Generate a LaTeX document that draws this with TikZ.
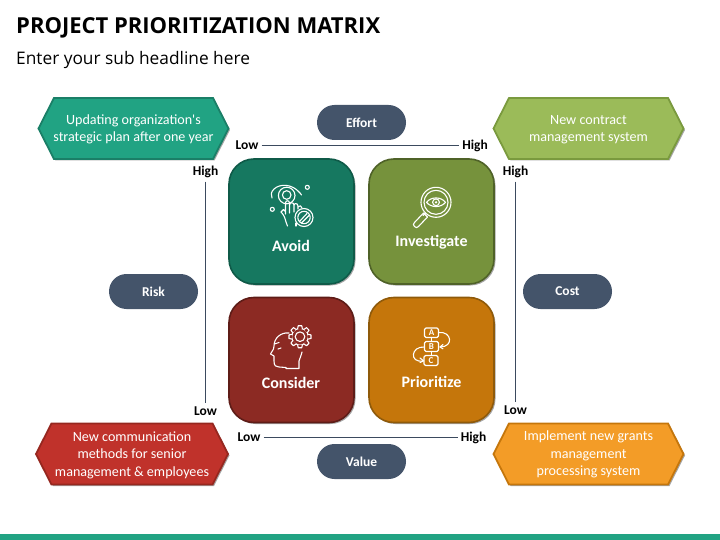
\documentclass[tikz,border=0pt]{standalone}
\usepackage{fontspec}
\setmainfont{Carlito}
\newfontfamily\titlefont{Open Sans}
\newfontfamily\hexfont{Carlito}
\usetikzlibrary{shapes.misc,shadows}
\definecolor{hexteal}{HTML}{21A383}\definecolor{hextealb}{HTML}{1A7F67}
\definecolor{hexgreen}{HTML}{9BBB59}\definecolor{hexgreenb}{HTML}{7A9A3E}
\definecolor{hexred}{HTML}{C0322B}\definecolor{hexredb}{HTML}{96271F}
\definecolor{hexorange}{HTML}{F39C27}\definecolor{hexorangeb}{HTML}{C5760B}
\definecolor{boxteal}{HTML}{167860}\definecolor{boxtealb}{HTML}{0F5A48}
\definecolor{boxgreen}{HTML}{76923C}\definecolor{boxgreenb}{HTML}{4F6228}
\definecolor{boxred}{HTML}{8C2A23}\definecolor{boxredb}{HTML}{5E1C17}
\definecolor{boxorange}{HTML}{C5760B}\definecolor{boxorangeb}{HTML}{8F5A0A}
\definecolor{slatepill}{HTML}{44546A}
\definecolor{axisline}{HTML}{3B4A5E}
\tikzset{
 softshadow/.style={drop shadow={shadow xshift=1.5pt,shadow yshift=-1.5pt,opacity=.35,fill=black}},
 hexpath/.style={line width=1.8pt,softshadow,line join=miter},
 hextext/.style={inner sep=0pt,text=white,align=center,font=\hexfont\fontsize{14.1}{17.6}\selectfont},
 quad/.style={rounded corners=25pt,minimum width=125pt,minimum height=125pt,line width=1.6pt,softshadow,inner sep=0pt},
 quadlabel/.style={text=white,font=\fontsize{16}{18}\selectfont\bfseries,inner sep=0pt},
 pill/.style={rounded rectangle,fill=slatepill,minimum width=89pt,minimum height=35pt,inner sep=0pt,text=white,
   font=\fontsize{13.5}{16}\selectfont\bfseries},
 axislabel/.style={font=\fontsize{13.5}{15}\selectfont\bfseries,inner sep=0pt,text=black},
 axis/.style={axisline,line width=1.2pt},
 icon/.style={white,line width=1.1pt,line cap=round,line join=round},
 iconletter/.style={text=white,inner sep=0pt,font=\fontsize{9}{9}\selectfont\bfseries},
}
\newcommand{\hexat}[5]{% cx, cy, half width, style, (unused name)
  \path[hexpath,#4] (#1-#3,#2) -- (#1-#3+15.5,#2-30.5) -- (#1+#3-15.5,#2-30.5) -- (#1+#3,#2) -- (#1+#3-15.5,#2+30.5) -- (#1-#3+15.5,#2+30.5) -- cycle;
}
\begin{document}
\begin{tikzpicture}[x=1pt,y=-1pt]
\useasboundingbox (0,0) rectangle (720,540);
\fill[hexteal] (0,534) rectangle (720,540);
\node[anchor=west,inner sep=0pt,font=\titlefont\fontsize{22}{26}\selectfont\bfseries,text=black] (title) at (16,28) {PROJECT PRIORITIZATION MATRIX};
\node[anchor=west,inner sep=0pt,font=\titlefont\fontsize{17.3}{20}\selectfont,text=black] (sub) at (16,60) {Enter your sub headline here};

% quadrants
\node[quad,fill=boxteal,draw=boxtealb] (avoid) at (291.5,221.5) {};
\node[quad,fill=boxgreen,draw=boxgreenb] (invest) at (431.5,221.5) {};
\node[quad,fill=boxred,draw=boxredb] (consider) at (291.5,360) {};
\node[quad,fill=boxorange,draw=boxorangeb] (prior) at (431.5,360) {};
\node[quadlabel] (tavoid) at (291,246) {Avoid};
\node[quadlabel] (tinvest) at (431.5,242) {Investigate};
\node[quadlabel] (tconsider) at (291,383) {Consider};
\node[quadlabel] (tprior) at (431.5,382) {Prioritize};

% hexagons
\hexat{133.5}{128.5}{95}{fill=hexteal,draw=hextealb}{}
\hexat{588.5}{128.5}{95}{fill=hexgreen,draw=hexgreenb}{}
\hexat{132}{454}{96}{fill=hexred,draw=hexredb}{}
\hexat{588.5}{454}{95}{fill=hexorange,draw=hexorangeb}{}
\node[hextext] (h1) at (133.5,129.5) {Updating organization's\\strategic plan after one year};
\node[hextext] (h2) at (588.5,129.5) {New contract\\management system};
\node[hextext] (h3) at (132,455) {New communication\\methods for senior\\management \& employees};
\node[hextext] (h4) at (588.5,454.5) {Implement new grants\\management\\processing system};

% pills
\node[pill] (effort) at (361.5,122.5) {Effort};
\node[pill] (value) at (361.5,461.5) {Value};
\node[pill] (risk) at (153.5,291.5) {Risk};
\node[pill] (cost) at (567.5,291.5) {Cost};

% axis labels
\node[axislabel] (tl) at (247,145.5) {Low};
\node[axislabel] (th) at (475,145.5) {High};
\node[axislabel] (bl) at (249,437.5) {Low};
\node[axislabel] (bh) at (473.5,437.5) {High};
\node[axislabel] (lh) at (205.5,171.5) {High};
\node[axislabel] (ll) at (205.5,411.5) {Low};
\node[axislabel] (rh) at (515.5,171.5) {High};
\node[axislabel] (rl) at (515.5,410.5) {Low};
\draw[axis] (tl.east) ++(3,0) coordinate (a1) (th.west) ++(-3,0) coordinate (a2) (a1) -- (a2);
\draw[axis] (bl.east) ++(3,0) coordinate (b1) (bh.west) ++(-3,0) coordinate (b2) (b1) -- (b2);
\draw[axis] (lh.south) ++(0,4) coordinate (c1) (ll.north) ++(0,-4) coordinate (c2) (c1) -- (c2);
\draw[axis] (rh.south) ++(0,4) coordinate (d1) (rl.north) ++(0,-4) coordinate (d2) (d1) -- (d2);

% icon: eye and hand
\begin{scope}[icon]
\draw (272,198) .. controls (270.5,195) and (271,192) .. (274,189) .. controls (280,183.5) and (292,183.5) .. (300,193);
\draw (300,193) -- (301.5,195);
\draw (286.7,195.5) circle (8.3);
\draw (286.7,195) circle (4.3);
\draw (307.3,187.3) circle (2);
\draw (272.3,209.3) circle (2);
\draw (281,212) .. controls (284,215) and (285,218) .. (286,222) -- (287.5,226);
\draw (281,212) -- (283.5,209.5) -- (285.5,211.5);
\draw (285.5,214) -- (285.5,203) .. controls (285.5,200) and (289.5,200) .. (289.5,203) -- (289.5,213);
\draw (289.5,205) .. controls (289.5,202) and (294,202) .. (294,205) -- (294,212);
\draw (294,205) .. controls (294,203) and (298,203) .. (298,206) -- (298,209);
\draw (298,207) .. controls (299,205) and (302,205.5) .. (302,208);
\draw (296,226) -- (296,223);
\draw (304,217.5) circle (9);
\draw (304,217.5) circle (6.2);
\draw (299.5,221.5) -- (307,213.5);
\draw (301.5,223) -- (309,215.5);

% icon: magnifier
\draw (436,202.3) circle (15);
\draw (436,202.3) circle (12);
\draw (426.5,202.3) .. controls (431,196.5) and (441,196.5) .. (445.5,202.3) .. controls (441,208) and (431,208) .. (426.5,202.3) -- cycle;
\draw (436,202.3) circle (3.4);
\fill[white] (436,202.3) circle (1.3);
\draw (425.5,213) -- (423,215.5);
\draw (423.5,213) -- (414.5,222.5) .. controls (413,224) and (413,225) .. (414.5,226.5) .. controls (416,228) and (417,228) .. (418.5,226.5) -- (427.5,217) -- cycle;

% icon: head and gear
\draw (289,333) .. controls (281,332) and (274,338) .. (274,346) -- (273.5,349) -- (270.5,354) -- (274,356) -- (274,361) .. controls (274,366) and (276,367) .. (279,367) -- (286,367.5) -- (286,368.5) -- (299,368.5) -- (299,361) .. controls (300,358) and (301,356) .. (302,352);
\draw (274.5,344) -- (279,342.5);
\draw (278,349) -- (281,348);
\begin{scope}[shift={(300,336.7)}]
\fill[boxred] (0,0) circle (8.5);
\draw (0,0) circle (8.2);
\fill[boxred] (0,0) circle (7.5);
\draw (0,0) circle (4.8);
\foreach \r in {0,45,...,315}{
  \draw[rotate=\r,fill=boxred] (-2.4,-7.8) -- (-1.8,-11) -- (1.8,-11) -- (2.4,-7.8);
}
\end{scope}

% icon: A B C flow
\draw[rounded corners=1.5pt] (424.5,328) rectangle (438.5,337.5);
\draw[rounded corners=1.5pt] (424.5,341.5) rectangle (438.5,351.5);
\draw[rounded corners=1.5pt] (424,355.5) rectangle (438,365.5);
\draw (431.5,337.5) -- (431.5,341.5) (431.5,351.5) -- (431.5,355.5);
\node[iconletter] (ia) at (431.5,332.8) {A};
\node[iconletter] (ib) at (431.5,346.5) {B};
\node[iconletter] (ic) at (431,360.5) {C};
\draw (438.5,332.5) .. controls (452,331) and (454,347) .. (440,347);
\draw (443,344.5) -- (440,347) -- (443,348.8);
\draw (424.5,347) .. controls (411,346) and (409,363) .. (423,361);
\draw (420,358) -- (423.5,360.8) -- (420,362.5);
\end{scope}
\end{tikzpicture}
\end{document}
